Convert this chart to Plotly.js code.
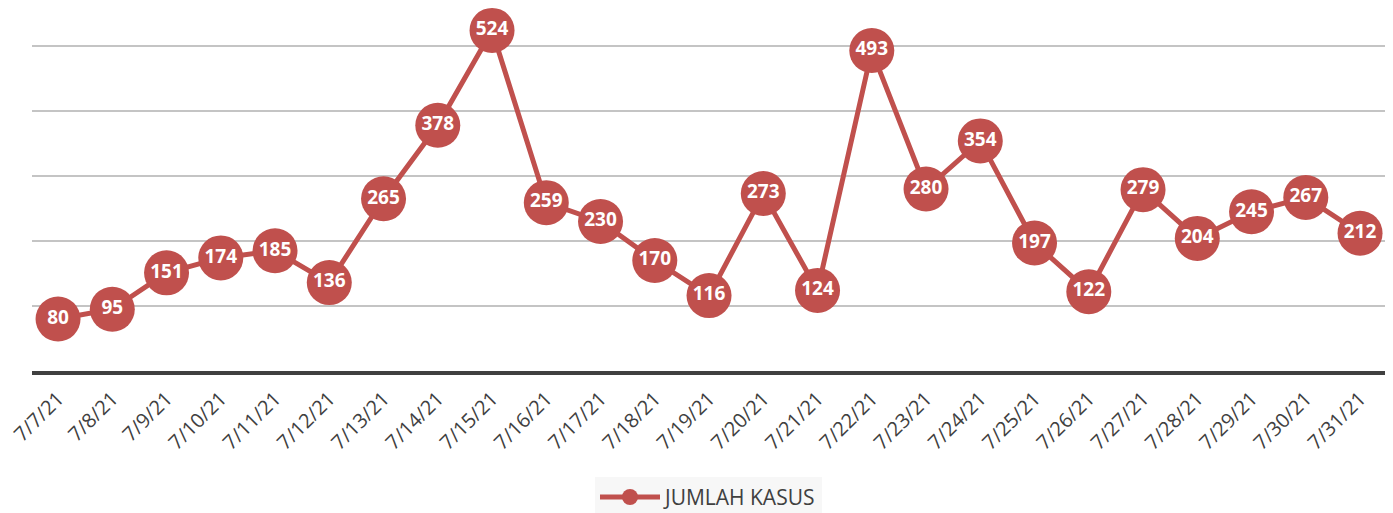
<!DOCTYPE html>
<html>
<head>
<meta charset="utf-8">
<script src="https://cdn.plot.ly/plotly-3.0.1.min.js"></script>
<style>html,body{margin:0;padding:0;background:#fff;}#chart{width:1393px;height:513px;}</style>
</head>
<body>
<div id="chart"></div>
<script>
const dates = ["7/7/21","7/8/21","7/9/21","7/10/21","7/11/21","7/12/21","7/13/21","7/14/21","7/15/21","7/16/21","7/17/21","7/18/21","7/19/21","7/20/21","7/21/21","7/22/21","7/23/21","7/24/21","7/25/21","7/26/21","7/27/21","7/28/21","7/29/21","7/30/21","7/31/21"];
const cases = [80,95,151,174,185,136,265,378,524,259,230,170,116,273,124,493,280,354,197,122,279,204,245,267,212];
const seriesName = "JUMLAH KASUS";
const red = "#c0504d";

const traces = [
  {
    x: dates, y: cases, name: seriesName, type: "scatter", mode: "lines+markers",
    line: {color: red, width: 5},
    marker: {color: red, size: 45},
    cliponaxis: false
  },
  {
    x: dates, y: cases, type: "scatter", mode: "text", showlegend: false,
    text: cases.map(String), textposition: "middle center",
    textfont: {family: "Open Sans, Noto Sans, sans-serif", size: 19, color: "#ffffff", weight: "bold"},
    cliponaxis: false, hoverinfo: "skip"
  }
];

const layout = {
  width: 1393, height: 513,
  margin: {l: 32, r: 8, t: 20, b: 142, autoexpand: false},
  paper_bgcolor: "#ffffff", plot_bgcolor: "#ffffff",
  font: {family: "Open Sans, Noto Sans, sans-serif", color: "#404040"},
  xaxis: {
    type: "category", range: [-0.48, 24.46], automargin: false,
    showgrid: false, showline: true, linecolor: "#404040", linewidth: 4,
    ticks: "outside", ticklen: 4, tickcolor: "rgba(0,0,0,0)",
    tickangle: -45, tickfont: {size: 20, color: "#404040"},
    zeroline: false
  },
  yaxis: {
    range: [0, 540], dtick: 100, showticklabels: false, ticks: "", automargin: false,
    showgrid: true, gridcolor: "#c4c4c4", gridwidth: 1.5, zeroline: false, showline: false
  },
  showlegend: true,
  legend: {
    orientation: "h", x: 0.5, xanchor: "center", y: -0.36, yanchor: "middle",
    bgcolor: "#f7f7f7", font: {size: 21, color: "#404040"}, itemwidth: 60
  }
};

Plotly.newPlot("chart", traces, layout, {displayModeBar: false, staticPlot: true});
</script>
</body>
</html>
